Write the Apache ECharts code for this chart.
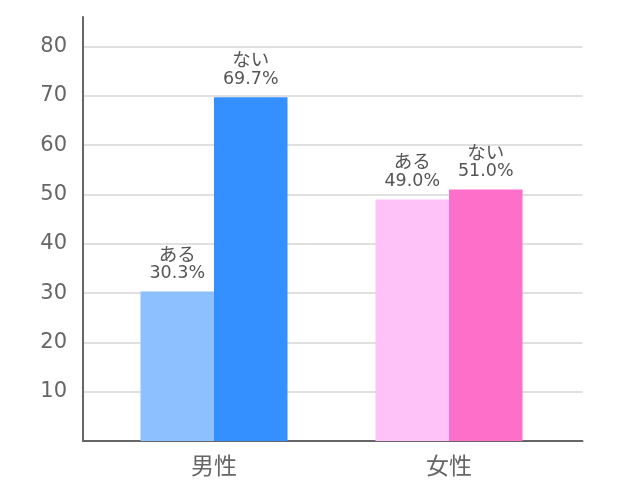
<!DOCTYPE html>
<html>
<head>
<meta charset="utf-8">
<script src="https://cdn.jsdelivr.net/npm/echarts@6/dist/echarts.min.js"></script>
<style>html,body{margin:0;padding:0;background:#fff}#c{width:643px;height:500px}</style>
</head>
<body>
<div id="c"></div>
<script>
const categories = ['男性', '女性'];
const seriesNames = ['ある', 'ない'];
const valuesAru = [30.3, 49.0];
const valuesNai = [69.7, 51.0];
const yTicks = [10, 20, 30, 40, 50, 60, 70, 80];

const colorsAru = ['#8CC0FE', '#FEC2F9'];
const colorsNai = ['#3390FE', '#FE6FC9'];
const FONT = '"DejaVu Sans", "Noto Sans CJK JP", sans-serif';
const FONT_CJK = '"Noto Sans CJK JP", sans-serif';
const YMAX = 86;

const chart = echarts.init(document.getElementById('c'));
function mk(vals, cols) { return vals.map((v, i) => ({ value: v, itemStyle: { color: cols[i] } })); }
const gridColors = [];
for (let v = 0; v <= 80; v += 10) gridColors.push(v === 0 ? 'rgba(0,0,0,0)' : '#e0e0e0');
gridColors.push('rgba(0,0,0,0)');

const labelCfg = {
  show: true, position: 'top', distance: 8, align: 'center',
  formatter: p => '{k|' + p.seriesName + '}\n{n|' + p.value.toFixed(1) + '%}',
  rich: {
    k: { color: '#555', fontFamily: FONT_CJK, fontSize: 18.5, lineHeight: 20, align: 'center' },
    n: { color: '#555', fontFamily: FONT, fontSize: 17.5, lineHeight: 20, align: 'center' }
  }
};

chart.setOption({
  animation: false,
  grid: [
    { left: 83, right: 60.5, top: 17, bottom: 59 },
    { left: 96.5, right: 76.5, top: 17, bottom: 59 }
  ],
  xAxis: [
    { gridIndex: 0, type: 'category', data: categories,
      axisLine: { show: true, lineStyle: { color: '#666', width: 2 } },
      axisTick: { show: false }, axisLabel: { show: false } },
    { gridIndex: 1, type: 'category', data: categories,
      axisLine: { show: false }, axisTick: { show: false },
      axisLabel: { color: '#666', fontFamily: FONT_CJK, fontSize: 23, margin: 13 } }
  ],
  yAxis: [
    { gridIndex: 0, type: 'value', min: 0, max: YMAX, interval: 10,
      axisLine: { show: true, lineStyle: { color: '#666', width: 2 } },
      axisTick: { show: false },
      splitLine: { show: true, lineStyle: { color: gridColors, width: 2 } },
      axisLabel: { color: '#666', fontFamily: FONT, fontSize: 21, margin: 16,
        showMaxLabel: false, showMinLabel: false,
        formatter: v => yTicks.includes(v) ? String(v) : '' } },
    { gridIndex: 1, type: 'value', min: 0, max: YMAX, interval: 10, show: false,
      splitLine: { show: false } }
  ],
  series: [
    { name: seriesNames[0], type: 'bar', xAxisIndex: 1, yAxisIndex: 1,
      barWidth: 73.5, barGap: '0%', data: mk(valuesAru, colorsAru), label: labelCfg },
    { name: seriesNames[1], type: 'bar', xAxisIndex: 1, yAxisIndex: 1,
      barWidth: 73.5, barGap: '0%', data: mk(valuesNai, colorsNai), label: labelCfg }
  ]
});
</script>
</body>
</html>
